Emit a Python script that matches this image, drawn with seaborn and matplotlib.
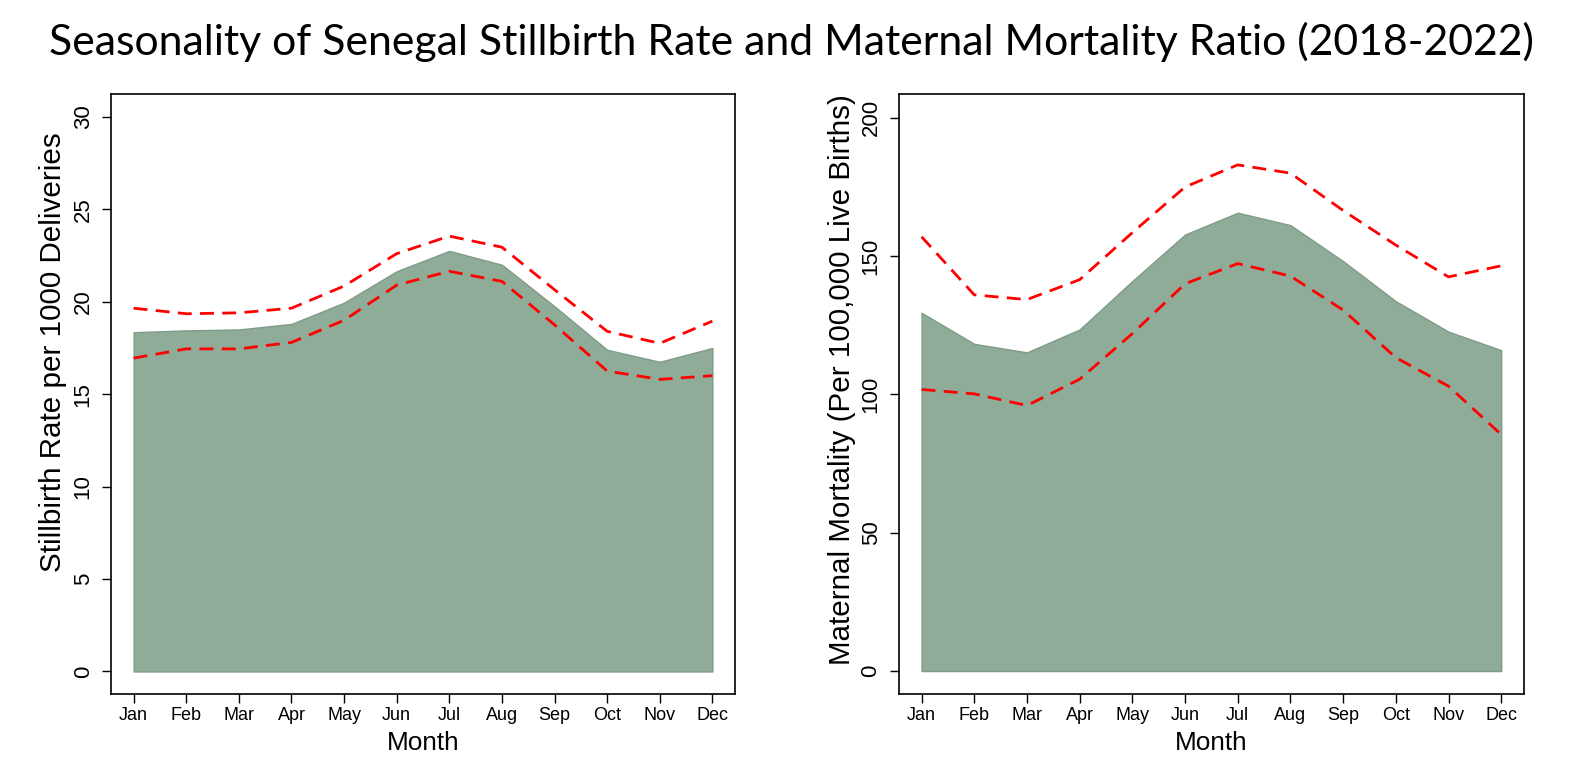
import numpy as np
import pandas as pd
import matplotlib
matplotlib.use("Agg")
import matplotlib.pyplot as plt
import seaborn as sns

months = ["Jan", "Feb", "Mar", "Apr", "May", "Jun", "Jul", "Aug", "Sep", "Oct", "Nov", "Dec"]

stillbirth = [18.35, 18.45, 18.5, 18.8, 19.95, 21.65, 22.75, 22.0, 19.75, 17.4, 16.75, 17.5]
stillbirth_upper = [19.65, 19.35, 19.4, 19.65, 20.85, 22.6, 23.55, 22.95, 20.65, 18.4, 17.75, 18.95]
stillbirth_lower = [16.95, 17.45, 17.45, 17.8, 19.0, 20.9, 21.65, 21.1, 18.75, 16.25, 15.8, 16.0]

maternal = [129.5, 118.3, 115.2, 123.5, 141.0, 157.8, 165.7, 161.2, 148.2, 133.7, 122.7, 116.0]
maternal_upper = [157.0, 136.0, 134.3, 141.5, 158.5, 175.0, 183.0, 180.0, 166.5, 154.0, 142.5, 146.5]
maternal_lower = [101.8, 100.2, 96.0, 105.5, 122.0, 140.0, 147.3, 142.8, 130.5, 113.3, 103.0, 85.5]

title = "Seasonality of Senegal Stillbirth Rate and Maternal Mortality Ratio (2018-2022)"

sns.set_theme(style="white")
plt.rcParams["font.family"] = ["Liberation Sans", "DejaVu Sans"]
for k in ["text.color", "axes.labelcolor", "xtick.color", "ytick.color"]:
    plt.rcParams[k] = "black"

fig = plt.figure(figsize=(15.93, 7.70), dpi=100)
fig.patch.set_facecolor("white")

fill_color = "#8FAC98"
red = "#FF0000"

panels = [
    dict(rect=[0.0697, 0.0987, 0.3917, 0.7788], main=stillbirth, up=stillbirth_upper, lo=stillbirth_lower,
         ylim=(-1.22, 31.22), yticks=[0, 5, 10, 15, 20, 25, 30],
         ylabel="Stillbirth Rate per 1000 Deliveries", ylab_pos=(-0.093, 0.570)),
    dict(rect=[0.5643, 0.0987, 0.3923, 0.7788], main=maternal, up=maternal_upper, lo=maternal_lower,
         ylim=(-8.3, 208.5), yticks=[0, 50, 100, 150, 200],
         ylabel="Maternal Mortality (Per 100,000 Live Births)", ylab_pos=(-0.091, 0.525)),
]

for p in panels:
    ax = fig.add_axes(p["rect"])
    df = pd.DataFrame({"month": np.arange(1, 13), "value": p["main"], "upper": p["up"], "lower": p["lo"]})
    ax.fill_between(df["month"], 0, df["value"], color=fill_color, linewidth=1.0, edgecolor="#7f9c88", zorder=1)
    sns.lineplot(data=df, x="month", y="upper", ax=ax, color=red, linewidth=2.0, zorder=3)
    sns.lineplot(data=df, x="month", y="lower", ax=ax, color=red, linewidth=2.0, zorder=3)
    for ln in ax.get_lines():
        ln.set_dashes([5, 3])
    ax.set_xlim(0.57, 12.43)
    ax.set_ylim(*p["ylim"])
    ax.set_xticks(np.arange(1, 13))
    ax.set_xticklabels(months, fontsize=13)
    ax.set_yticks(p["yticks"])
    ax.set_yticklabels([str(t) for t in p["yticks"]], fontsize=16, rotation=90, va="center")
    ax.tick_params(axis="both", which="major", direction="out", length=6.5, width=1.0, color="black",
                   bottom=True, left=True)
    ax.tick_params(axis="x", pad=3)
    ax.tick_params(axis="y", pad=6)
    for s in ax.spines.values():
        s.set_color("black")
        s.set_linewidth(1.2)
    ax.set_xlabel("Month", fontsize=18.8)
    ax.xaxis.label.set_verticalalignment("center")
    ax.xaxis.set_label_coords(0.5, -0.0817)
    ax.set_ylabel(p["ylabel"], fontsize=21.3)
    ax.yaxis.label.set_verticalalignment("center")
    ax.yaxis.set_label_coords(*p["ylab_pos"])
    ax.grid(False)

fig.text(0.497, 0.946, title, ha="center", va="center", fontsize=30.8, family=["Lato", "DejaVu Sans"])

fig.savefig("out.png", dpi=100, facecolor="white")
